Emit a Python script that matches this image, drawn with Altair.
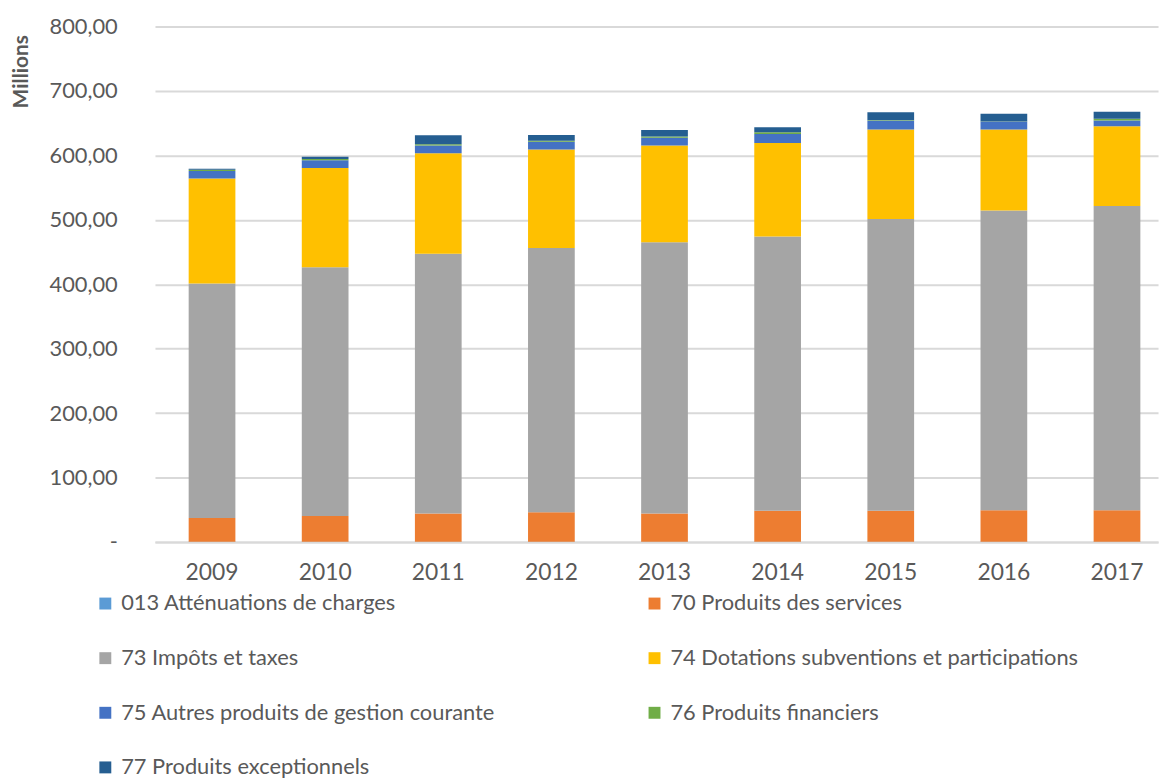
import altair as alt
import pandas as pd

years = ["2009", "2010", "2011", "2012", "2013", "2014", "2015", "2016", "2017"]
series_names = [
    "013 Atténuations de charges",
    "70 Produits des services",
    "73 Impôts et taxes",
    "74 Dotations subventions et participations",
    "75 Autres produits de gestion courante",
    "76 Produits financiers",
    "77 Produits exceptionnels",
]
s013 = [0.3, 0.3, 0.3, 0.3, 0.3, 0.3, 0.3, 0.3, 0.3]
s70 = [37, 40, 44, 46, 44, 48, 48, 49, 49]
s73 = [364, 386, 403, 410, 421, 426, 453, 465, 472]
s74 = [163, 154, 156, 153, 150, 145, 139, 126, 124]
s75 = [11.5, 12, 12, 12, 12, 14, 14, 12, 9]
s76 = [2, 2, 2, 1.5, 2, 2.5, 0.5, 0.5, 2.5]
s77 = [1.5, 3.5, 14, 9, 10, 8, 12, 12, 11]
colors = ["#5B9BD5", "#ED7D31", "#A5A5A5", "#FFC000", "#4472C4", "#70AD47", "#255E91"]

all_series = [s013, s70, s73, s74, s75, s76, s77]
rows = []
for k, (name, vals) in enumerate(zip(series_names, all_series)):
    for y, v in zip(years, vals):
        rows.append({"Année": y, "Série": name, "Valeur": v, "ordre": k})
df = pd.DataFrame(rows)

FONT = "Lato"
GREY = "#595959"

chart = alt.Chart(df).mark_bar().encode(
    x=alt.X(
        "Année:N",
        sort=years,
        title=None,
        scale=alt.Scale(paddingInner=0.587, paddingOuter=0.227, align=0.656, round=False),
        axis=alt.Axis(
            labelAngle=0, ticks=False, grid=False, domain=True,
            domainColor="#d9d9d9", domainWidth=2,
            labelFont=FONT, labelFontSize=23, labelColor=GREY, labelPadding=20,
        ),
    ),
    y=alt.Y(
        "Valeur:Q",
        stack="zero",
        scale=alt.Scale(domain=[0, 800], nice=False),
        title="Millions",
        axis=alt.Axis(
            values=[0, 100, 200, 300, 400, 500, 600, 700, 800],
            labelExpr="datum.value == 0 ? '-\u00a0\u00a0' : replace(format(datum.value, '.2f'), '.', ',')",
            ticks=False, domain=False, grid=True,
            gridColor="#d9d9d9", gridWidth=2,
            labelFont=FONT, labelFontSize=22, labelColor=GREY, labelPadding=38,
            titleFont=FONT, titleFontSize=21, titleFontWeight="bold", titleColor=GREY,
            titleAngle=270, titleX=-134, titleY=8, titleAlign="right", titleBaseline="middle",
        ),
    ),
    color=alt.Color(
        "Série:N",
        scale=alt.Scale(domain=series_names, range=colors),
        legend=alt.Legend(
            title=None, orient="none", legendX=-61, legendY=570,
            direction="horizontal", columns=2, columnPadding=149, rowPadding=33,
            symbolType="square", symbolSize=144, symbolStrokeWidth=0,
            labelFont=FONT, labelFontSize=22, labelColor=GREY, labelOffset=5,
            labelLimit=600, padding=0,
        ),
    ),
    order=alt.Order("ordre:Q", sort="ascending"),
).properties(
    width=1010,
    height=519,
    padding={"left": 148, "top": 16, "right": 3, "bottom": 236},
    autosize=alt.AutoSizeParams(type="none"),
).configure_view(stroke=None)

chart.save("out.html", embed_options={"renderer": "svg", "actions": False})
